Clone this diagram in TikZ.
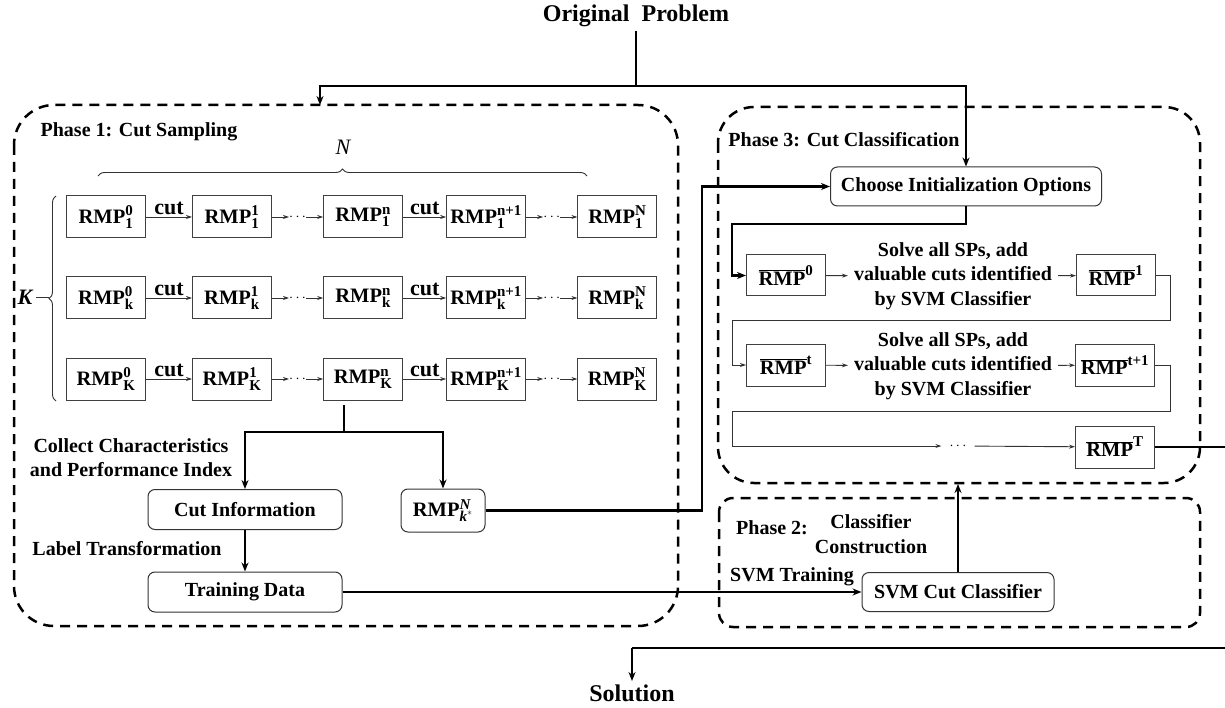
\documentclass[tikz,border=0pt]{standalone}
\usepackage{fontspec}
\setmainfont{Liberation Serif}
\usepackage{tikz}
\usetikzlibrary{arrows.meta,positioning,decorations.pathreplacing}
\newcommand{\lbltxt}{\fontsize{20}{24.5}\selectfont\bfseries}
\newcommand{\bigtxt}{\fontsize{24}{28}\selectfont\bfseries}
\newcommand{\rmptxt}{\fontsize{20.5}{24}\selectfont\bfseries}
\newcommand{\scr}[1]{\mbox{\fontsize{15}{15}\selectfont\bfseries #1}}
\newcommand{\rmp}[2]{RMP$^{\scr{#1}}_{\scr{#2}}$}
\newcommand{\rmpbar}[1]{$\overline{\mbox{RMP}}^{\scr{#1}}$}
\tikzstyle{rmp}=[draw=black!75, line width=1pt, minimum width=79pt, minimum height=42pt, inner sep=0pt, font=\rmptxt]
\tikzstyle{rbox}=[draw=black!80, line width=1pt, rounded corners=7pt, minimum height=40pt, inner sep=0pt, font=\lbltxt]
\tikzstyle{phase}=[draw, line width=2.5pt, dash pattern=on 10pt off 7pt]
\tikzstyle{lbl}=[font=\lbltxt, align=center, inner sep=0pt]
\tikzstyle{dts}=[inner sep=0pt, font=\fontsize{15}{15}\selectfont\bfseries]
\tikzstyle{cutlbl}=[above, inner sep=2pt, font=\fontsize{22}{24}\selectfont\bfseries]
\tikzstyle{thk}=[line width=2.5pt]
\tikzstyle{thn}=[line width=0.9pt, draw=black!80, >={Stealth[length=6pt,width=4pt]}]

\begin{document}
\begin{tikzpicture}[x=1pt, y=-1pt, >={Stealth[length=9pt,width=7pt]}]
\useasboundingbox (0,0) rectangle (1225,708);
\clip (0,0) rectangle (1225,708);
%
  \node[font=\bigtxt] (op) at (636,16) {Original\enspace Problem};
  \node[font=\bigtxt] (sol) at (632,693) {Solution};
  \coordinate (jt) at (636,86);
  \coordinate (p1in) at (320,105);
%
  % phase boxes
  \draw[phase, rounded corners=40pt] (14,105) rectangle (678,626);
  \draw[phase, rounded corners=36pt] (718,107) rectangle (1200,483);
  \draw[phase, rounded corners=14pt] (719,498) rectangle (1200,627);
  \node[lbl] (ph1) at (139,132) {Phase 1: Cut Sampling};
  \node[lbl] (ph3) at (844,140) {Phase 3: Cut Classification};
  \node[lbl] (ph2) at (772,528) {Phase 2:};
  \node[lbl] (ph2b) at (871,534) {Classifier\\Construction};
%
  % phase 1: sampled chains
  \node[rmp] (a0) at (106,217) {\rmp{0}{1}};
  \node[rmp] (a1) [right = 46pt of a0] {\rmp{1}{1}};
  \node[dts] (ad) [right = 17pt of a1] {$\cdots$};
  \node[rmp] (an) [right = 17pt of ad] {\rmp{n}{1}};
  \node[rmp] (am) [right = 43pt of an] {\rmp{n+1}{1}};
  \node[dts] (ae) [right = 17pt of am] {$\cdots$};
  \node[rmp] (aN) [right = 17pt of ae] {\rmp{N}{1}};
%
  \node[rmp] (b0) [below = 38pt of a0] {\rmp{0}{k}};
  \node[rmp] (b1) [right = 46pt of b0] {\rmp{1}{k}};
  \node[dts] (bd) [right = 17pt of b1] {$\cdots$};
  \node[rmp] (bn) [right = 17pt of bd] {\rmp{n}{k}};
  \node[rmp] (bm) [right = 43pt of bn] {\rmp{n+1}{k}};
  \node[dts] (be) [right = 17pt of bm] {$\cdots$};
  \node[rmp] (bN) [right = 17pt of be] {\rmp{N}{k}};
%
  \node[rmp] (c0) [below = 38pt of b0] {\rmp{0}{K}};
  \node[rmp] (c1) [right = 46pt of c0] {\rmp{1}{K}};
  \node[dts] (cd) [right = 17pt of c1] {$\cdots$};
  \node[rmp] (cn) [right = 17pt of cd] {\rmp{n}{K}};
  \node[rmp] (cm) [right = 43pt of cn] {\rmp{n+1}{K}};
  \node[dts] (ce) [right = 17pt of cm] {$\cdots$};
  \node[rmp] (cN) [right = 17pt of ce] {\rmp{N}{K}};
%
  \path[thn, ->]
  (a0) edge node[cutlbl] {cut} (a1)
  (a1) edge (ad) (ad) edge (an)
  (an) edge node[cutlbl] {cut} (am)
  (am) edge (ae) (ae) edge (aN)
  (b0) edge node[cutlbl] {cut} (b1)
  (b1) edge (bd) (bd) edge (bn)
  (bn) edge node[cutlbl] {cut} (bm)
  (bm) edge (be) (be) edge (bN)
  (c0) edge node[cutlbl] {cut} (c1)
  (c1) edge (cd) (cd) edge (cn)
  (cn) edge node[cutlbl] {cut} (cm)
  (cm) edge (ce) (ce) edge (cN);
%
  % braces
  \coordinate (nl) at (98,176);
  \coordinate (nr) at (587,176);
  \coordinate (kb) at (56,401);
  \coordinate (kt) at (56,196);
  \draw[thn, decorate, decoration={brace, amplitude=7pt}] (nl) -- (nr);
  \draw[thn, decorate, decoration={brace, amplitude=7pt}] (kb) -- (kt);
  \node[font=\fontsize{22}{26}\selectfont\itshape] (nlab) at (343,147) {N};
  \node[font=\fontsize{22}{26}\selectfont\bfseries\itshape] (klab) at (25,297) {K};
  \draw[thn] (klab.east) -- (49,297);
%
  % phase 1: collecting
  \node[rbox, minimum width=194pt] (cinfo) at (245,509.5) {Cut Information};
  \node[rbox, minimum width=194pt] (tdata) at (245,592) {Training Data};
  \node[rbox, minimum width=84pt, minimum height=43pt, font=\rmptxt] (rstar) at (443,510.5)
    {RMP$^{\scr{\itshape N}}_{\scr{\itshape k}^{*}}$};
  \node[lbl] (collect) at (131,457.5) {Collect Characteristics\\and Performance Index};
  \node[lbl] (labtr) at (127,549) {Label Transformation};
  \coordinate (stem) at (344,405);
  \coordinate (split) at (344,432);
  \draw[thk] (stem) -- (split);
  \draw[thk, ->] (split) -| (cinfo);
  \draw[thk, ->] (split) -| (rstar);
  \draw[thk, ->] (cinfo) -- (tdata);
%
  % phase 2
  \node[lbl] (svmtr) at (792,577) {SVM Training};
  \node[rbox, minimum width=192pt, minimum height=39pt] (svm) at (958,592) {SVM Cut Classifier};
  \coordinate (p3in) at (958,484);
  \draw[thk, ->] (tdata) -- (svm);
  \draw[thk, ->] (svm) -- (p3in);
%
  % phase 3
  \node[rbox, minimum width=271pt, minimum height=39pt] (cio) at (966,186.5) {Choose Initialization Options};
  \node[rmp, minimum height=41pt] (r0) at (786,275.5) {\rmpbar{0}};
  \node[lbl, inner xsep=6pt] (s1) at (953,276) {Solve all SPs, add\\valuable cuts identified\\by SVM Classifier};
  \node[rmp, minimum height=41pt] (r1) at (1116,275.5) {\rmpbar{1}};
  \node[rmp] (rt) at (786,365) {\rmpbar{t}};
  \node[lbl, inner xsep=6pt] (s2) at (953,366) {Solve all SPs, add\\valuable cuts identified\\by SVM Classifier};
  \node[rmp] (rt1) at (1115,365) {\rmpbar{t+1}};
  \node[dts, inner xsep=8pt] (td) at (958,446) {$\cdots$};
  \node[rmp] (rT) at (1115,447) {\rmpbar{T}};
  \coordinate (l1) at (732,224);
  \coordinate (q1) at (1170,320);
  \coordinate (l2) at (732,320);
  \coordinate (q2) at (1170,411);
  \coordinate (l3) at (732,411);
  \coordinate (riser) at (702,300);
  \coordinate (outr) at (1250,447);
  \coordinate (back) at (632,648);
%
  \draw[thk, ->] (jt) -| (p1in);
  \draw[thk, ->] (jt) -| (cio);
  \draw[thk] (op) -- (jt);
  \draw[thk, ->] (rstar.east) -| (riser) |- (cio.west);
  \draw[thk, ->] (cio.south) |- (l1) |- (r0.west);
  \path[thn, ->]
  (r0) edge (s1) (s1) edge (r1)
  (rt) edge (s2) (s2) edge (rt1)
  (td) edge (rT);
  \draw[thn, ->] (r1.east) -| (q1) -- (l2) |- (rt.west);
  \draw[thn, ->] (rt1.east) -| (q2) -- (l3) |- (td.west);
  \draw[thk] (rT.east) -- (outr) |- (back);
  \draw[thk, ->] (back) -- (sol);
\end{tikzpicture}
\end{document}
